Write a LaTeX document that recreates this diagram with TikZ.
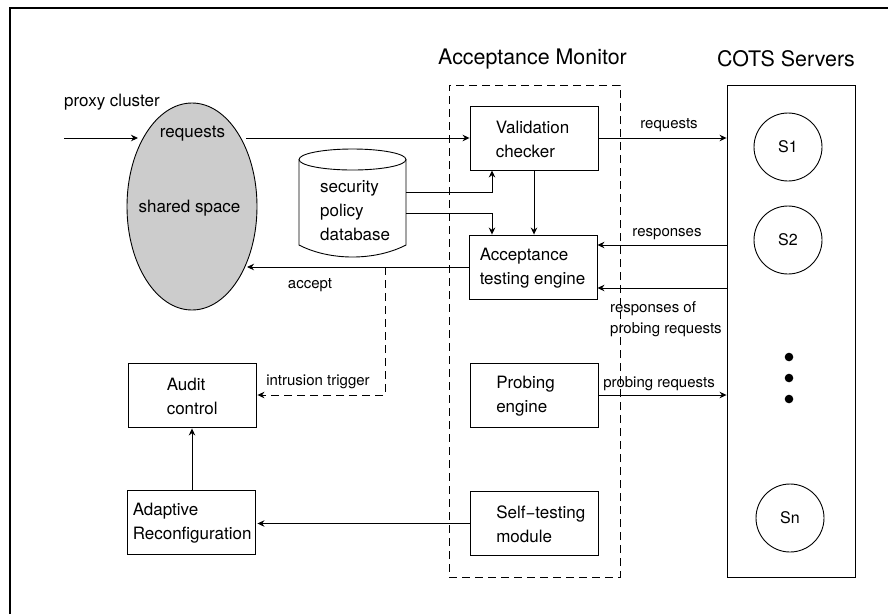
\documentclass[tikz,border=0pt]{standalone}
\usepackage{fontspec}
\setmainfont{TeX Gyre Heros}
\usetikzlibrary{positioning,shapes.geometric,arrows.meta}
\tikzset{modbox/.style={draw,line width=0.9pt,minimum width=128pt,minimum height=64pt,inner sep=0pt}}
\tikzset{boxtext/.style={anchor=west,align=left,inner sep=0pt,yshift=-1pt,font=\fontsize{17}{24}\selectfont}}
\tikzset{msg/.style={inner sep=0pt,align=left,yshift=-2pt,font=\fontsize{15}{21}\selectfont}}
\tikzset{heading/.style={inner sep=0pt,yshift=-2pt,font=\fontsize{21.4}{26}\selectfont}}
\tikzset{server/.style={draw,circle,line width=0.9pt,minimum size=68pt,inner sep=0pt,font=\fontsize{16}{19}\selectfont}}
\tikzset{conn/.style={line width=0.9pt,-{Stealth[length=7pt,width=6.5pt]}}}
\tikzset{longdash/.style={dash pattern=on 8pt off 5pt}}
\begin{document}
\begin{tikzpicture}[x=1pt,y=-1pt]
    \useasboundingbox (0,0) rectangle (888,614);
    %page border
    \draw [line width=2.2pt] (10,614) -- (10,8) -- (888,8);

    %titles
    \node [heading] (monitortitle) at (532.5,57) {Acceptance Monitor};
    \node [heading] (cotstitle) at (786,57) {COTS Servers};

    %outer boxes
    \node [modbox,longdash,minimum width=171pt,minimum height=492pt] (monitor) at (534.5,331) {};
    \node [modbox,minimum width=128pt,minimum height=492pt] (servers) at (791,331) {};

    %proxy
    \node [draw,ellipse,line width=0.9pt,fill=black!20,minimum width=130pt,minimum height=207pt,inner sep=0pt] (proxy) at (192,206.5) {};
    \node [boxtext,anchor=center] (requeststext) at (192.5,133) {requests};
    \node [boxtext,anchor=center] (sharedtext) at (189.5,207) {shared space};
    \node [boxtext,anchor=west] (proxytext) at (64,101) {proxy cluster};

    %database
    \draw [line width=0.9pt] (299,159.5) -- (299,245) .. controls (330,261) and (375,261) .. (406,245) -- (406,159.5);
    \draw [line width=0.9pt] (352.5,159.5) ellipse (53.5 and 10.5);
    \node [boxtext] (dbtext) at (320,210) {security\\policy\\database};

    %monitor modules
    \node [modbox] (validation) at (534,138) {};
    \node [boxtext] (validationtext) at ([xshift=26pt]validation.west) {Validation\\checker};
    \node [modbox] (acceptance) at (533,267) {};
    \node [boxtext] (acceptancetext) at ([xshift=11pt]acceptance.west) {Acceptance\\testing engine};
    \node [modbox] (probing) at (534.5,395) {};
    \node [boxtext] (probingtext) at ([xshift=26pt]probing.west) {Probing\\engine};
    \node [modbox] (selftest) at (534.5,523.5) {};
    \node [boxtext] (selftesttext) at ([xshift=26pt]selftest.west) {Self−testing\\module};

    %left modules
    \node [modbox] (audit) at (192,395) {};
    \node [boxtext] (audittext) at ([xshift=39pt]audit.west) {Audit\\control};
    \node [modbox] (adaptive) at (191,522) {};
    \node [boxtext] (adaptivetext) at ([xshift=6pt]adaptive.west) {Adaptive\\Reconfiguration};

    %servers
    \node [server] (s1) at (788,147) {S1};
    \node [server] (s2) at (788,240) {S2};
    \node [server] (sn) at (790,518) {Sn};
    \fill (789,357) circle (4.3) (789,378) circle (4.3) (789,399) circle (4.3);

    %free ends
    \coordinate (inflow) at (64,138);
    \coordinate (inflowend) at (138,138);
    \coordinate (reqstart) at (246,138);
    \coordinate (dbupper) at (406,192);
    \coordinate (dblower) at (406,213);
    \coordinate (acceptend) at (247,267);
    \coordinate (triggerstart) at (385,267);
    \coordinate (resp) at (727,245);
    \coordinate (respprobe) at (727,288);

    %connectors
    \draw [conn] (inflow) -- (inflowend);
    \draw [conn] (reqstart) -- (validation.west);
    \draw [conn] (validation.east) -- (validation.east -| servers.west);
    \draw [conn] (dbupper) -| ([xshift=-42pt]validation.south);
    \draw [conn] (dblower) -| ([xshift=-41pt]acceptance.north);
    \draw [conn] (validation.south) -- (validation.south |- acceptance.north);
    \draw [conn] (acceptance.west) -- (acceptend);
    \draw [conn,longdash] (triggerstart) |- ([xshift=1pt]audit.east);
    \draw [conn] (resp) -- (resp -| acceptance.east);
    \draw [conn] (respprobe) -- (respprobe -| acceptance.east);
    \draw [conn] (probing.east) -- (probing.east -| servers.west);
    \draw [conn] (selftest.west) -- ([xshift=2pt]selftest.west -| adaptive.east);
    \draw [conn] (audit.south |- adaptive.north) -- ([yshift=-1pt]audit.south);

    %labels
    \node [msg] (reqlabel) at (669,123) {requests};
    \node [msg] (acceptlabel) at (310,283) {accept};
    \node [msg] (triggerlabel) at (318,380) {intrusion trigger};
    \node [msg] (resplabel) at (667,232) {responses};
    \node [msg,anchor=west] (resprobelabel) at (610,317.5) {responses of\\probing requests};
    \node [msg] (probelabel) at (659,382) {probing requests};
\end{tikzpicture}
\end{document}
